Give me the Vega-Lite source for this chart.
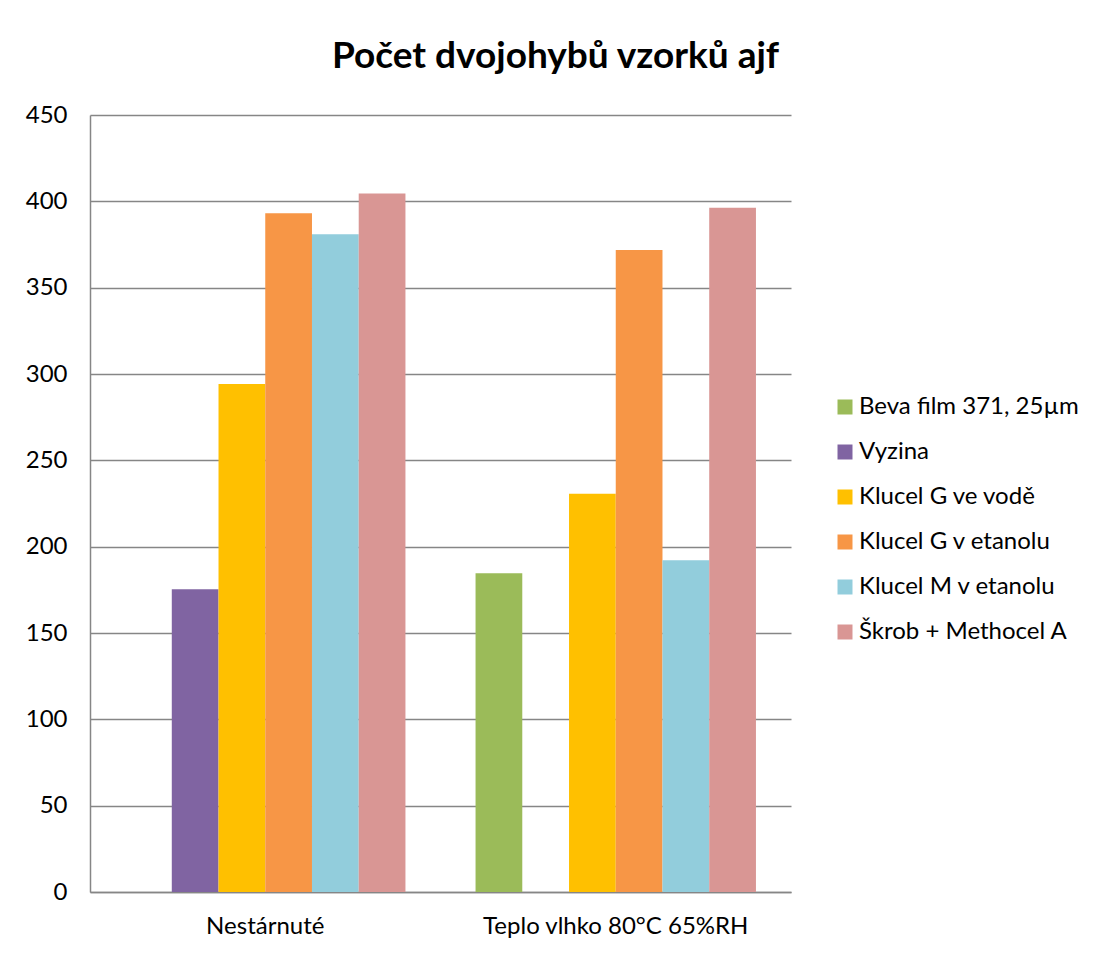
{
  "$schema": "https://vega.github.io/schema/vega-lite/v6.json",
  "width": 701,
  "height": 777,
  "autosize": {"type": "none"},
  "padding": {"left": 90, "top": 115, "right": 303, "bottom": 61},
  "background": "#ffffff",
  "title": {
    "text": "Počet dvojohybů vzorků ajf",
    "font": "Lato",
    "fontSize": 37,
    "fontWeight": "bold",
    "color": "#000000",
    "anchor": "middle",
    "dx": 115,
    "offset": 27
  },
  "data": {
    "values": [
      {"cond": "Nestárnuté", "series": "Vyzina", "value": 175.3},
      {"cond": "Nestárnuté", "series": "Klucel G ve vodě", "value": 294.2},
      {"cond": "Nestárnuté", "series": "Klucel G v etanolu", "value": 393.1},
      {"cond": "Nestárnuté", "series": "Klucel M v etanolu", "value": 380.9},
      {"cond": "Nestárnuté", "series": "Škrob + Methocel A", "value": 404.6},
      {"cond": "Teplo vlhko 80°C 65%RH", "series": "Beva film 371, 25µm", "value": 184.6},
      {"cond": "Teplo vlhko 80°C 65%RH", "series": "Klucel G ve vodě", "value": 230.7},
      {"cond": "Teplo vlhko 80°C 65%RH", "series": "Klucel G v etanolu", "value": 371.8},
      {"cond": "Teplo vlhko 80°C 65%RH", "series": "Klucel M v etanolu", "value": 192.1},
      {"cond": "Teplo vlhko 80°C 65%RH", "series": "Škrob + Methocel A", "value": 396.3}
    ]
  },
  "mark": {"type": "bar"},
  "encoding": {
    "x": {
      "field": "cond",
      "type": "nominal",
      "sort": ["Nestárnuté", "Teplo vlhko 80°C 65%RH"],
      "scale": {"paddingInner": 0.2, "paddingOuter": 0.1},
      "axis": {
        "title": null,
        "labelAngle": 0,
        "domainColor": "#868686",
        "domainWidth": 1.5,
        "ticks": false,
        "labelFont": "Lato",
        "labelFontSize": 24,
        "labelColor": "#000000",
        "labelPadding": 22,
        "labelLimit": 400
      }
    },
    "xOffset": {
      "field": "series",
      "type": "nominal",
      "scale": {
        "domain": ["Beva film 371, 25µm", "Vyzina", "Klucel G ve vodě", "Klucel G v etanolu", "Klucel M v etanolu", "Škrob + Methocel A"],
        "paddingInner": 0,
        "paddingOuter": 0
      }
    },
    "y": {
      "field": "value",
      "type": "quantitative",
      "scale": {"domain": [0, 450], "nice": false},
      "axis": {
        "title": null,
        "values": [0, 50, 100, 150, 200, 250, 300, 350, 400, 450],
        "domainColor": "#868686",
        "domainWidth": 1.5,
        "gridColor": "#868686",
        "gridWidth": 1.5,
        "gridOpacity": 1,
        "ticks": false,
        "labelFont": "Lato",
        "labelFontSize": 24,
        "labelColor": "#000000",
        "labelPadding": 23
      }
    },
    "color": {
      "field": "series",
      "type": "nominal",
      "scale": {
        "domain": ["Beva film 371, 25µm", "Vyzina", "Klucel G ve vodě", "Klucel G v etanolu", "Klucel M v etanolu", "Škrob + Methocel A"],
        "range": ["#9BBB59", "#8064A2", "#FFC000", "#F79646", "#92CDDC", "#D99694"]
      },
      "legend": {
        "orient": "none",
        "legendX": 743,
        "legendY": 280,
        "title": null,
        "symbolType": "square",
        "symbolSize": 225,
        "symbolStrokeWidth": 0,
        "symbolOpacity": 1,
        "labelFont": "Lato",
        "labelFontSize": 24,
        "labelColor": "#000000",
        "labelOffset": 2,
        "labelLimit": 400,
        "rowPadding": 21
      }
    }
  },
  "config": {"view": {"stroke": null}}
}
